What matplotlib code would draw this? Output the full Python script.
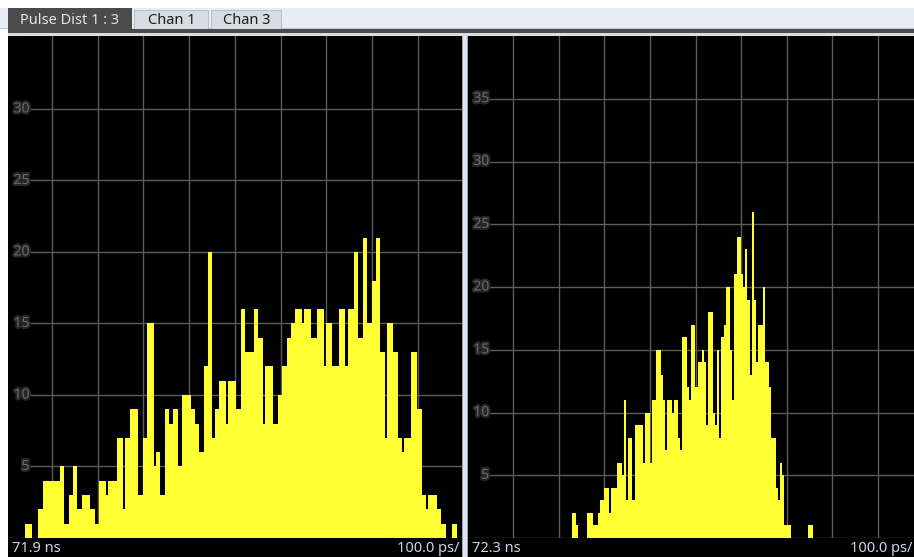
import matplotlib
matplotlib.use("Agg")
import matplotlib.pyplot as plt
import matplotlib.patheffects as pe
from matplotlib.patches import Rectangle
import numpy as np

plt.rcParams['font.family'] = ['Noto Sans', 'DejaVu Sans']

# histogram counts (one entry per bin)
left_counts = [
    1, 1, 1, 0, 0, 0, 2, 2, 4, 4, 4, 4, 4, 4, 4, 4, 5, 5, 1, 1, 3, 3, 5, 5,
    2, 2, 3, 3, 3, 3, 2, 2, 1, 1, 4, 4, 4, 3, 4, 4, 4, 4, 7, 7, 7, 2, 7, 7,
    9, 9, 9, 9, 3, 3, 7, 7, 15, 15, 15, 5, 6, 6, 3, 3, 9, 9, 8, 8, 9, 9, 5, 5,
    10, 10, 10, 10, 9, 9, 8, 8, 6, 6, 12, 12, 20, 20, 7, 9, 9, 11, 11, 11, 8, 11,
    11, 11, 11, 9, 9, 16, 16, 13, 13, 13, 13, 16, 16, 14, 14, 8, 12, 12, 12, 12,
    8, 8, 10, 10, 12, 12, 14, 14, 15, 15, 16, 16, 16, 15, 16, 16, 16, 14, 14, 14,
    16, 16, 16, 12, 15, 15, 15, 12, 12, 12, 16, 16, 16, 12, 16, 16, 16, 20, 20,
    14, 14, 21, 21, 15, 15, 18, 18, 21, 21, 13, 13, 7, 15, 15, 15, 13, 13, 7, 7,
    6, 7, 7, 7, 13, 13, 13, 9, 9, 3, 3, 2, 3, 3, 3, 3, 2, 2, 1, 1, 0, 0, 0, 1, 1]

right_counts = [
    2, 2, 1, 0, 0, 0, 0, 2, 2, 2, 1, 1, 2, 3, 3, 4, 4, 2, 4, 4, 4, 6, 6, 5, 11,
    3, 8, 8, 3, 9, 9, 9, 9, 6, 10, 10, 6, 11, 11, 15, 15, 13, 11, 7, 11, 11, 10,
    11, 11, 8, 7, 16, 16, 12, 11, 17, 17, 12, 14, 14, 15, 14, 9, 18, 18, 10, 9,
    15, 8, 16, 17, 20, 20, 15, 11, 21, 24, 24, 21, 20, 23, 19, 13, 26, 19, 14,
    17, 17, 20, 14, 14, 12, 8, 8, 4, 3, 6, 5, 1, 1, 1, 0, 0, 0, 0, 0, 0, 0, 0, 1, 1]

left_origin = 71.9     # ns at left edge of screen
right_origin = 72.3
left_start = 71.9415   # ns, first bin edge
right_start = 72.5283
bin_w = 0.004763       # ns
time_div = 0.1         # 100 ps/div

left_ticks = [5, 10, 15, 20, 25, 30]
right_ticks = [5, 10, 15, 20, 25, 30, 35]

tab_names = ["Pulse Dist 1 : 3", "Chan 1", "Chan 3"]

W, H = 914, 557
BAR_COLOR = "#ffff33"
GRID_COLOR = "#5c5c5c"
LABEL_COLOR = "#c8d6e8"


def frect(x0, y0, x1, y1):
    # pixel box (top-left origin) -> figure fraction box
    return [x0 / W, 1 - y1 / H, (x1 - x0) / W, (y1 - y0) / H]


def add_box(fig, x0, y0, x1, y1, color, z=0):
    l, b, w, h = frect(x0, y0, x1, y1)
    fig.add_artist(Rectangle((l, b), w, h, transform=fig.transFigure,
                             facecolor=color, edgecolor="none", zorder=z))


def draw_panel(fig, x0, counts, start, origin, xlim, ylim, ticks, left_lbl):
    ax = fig.add_axes(frect(x0, 36, x0 + 455.6, 538))
    ax.set_facecolor("black")
    edges = start + bin_w * np.arange(len(counts) + 1)
    ax.stairs(counts, edges, fill=True, color=BAR_COLOR, zorder=3)
    ax.set_xlim(*xlim)
    ax.set_ylim(*ylim)
    for k in range(1, 10):
        ax.axvline(origin + time_div * k, color=GRID_COLOR, lw=1, zorder=1)
    for t in [0] + ticks:
        ax.axhline(t, xmin=0.05 if t else 0, color=GRID_COLOR, lw=1, zorder=1)
    for t in ticks:
        ax.text(0.047, t, str(t), transform=ax.get_yaxis_transform(),
                ha="right", va="center", fontsize=10, color="#6a6a6a",
                path_effects=[pe.withStroke(linewidth=3, foreground="#262626")],
                zorder=4)
    ax.set_xticks([])
    ax.set_yticks([])
    for s in ax.spines.values():
        s.set_visible(False)
    # bottom label strip
    add_box(fig, x0, 538, x0 + 455.6, 557, "black", z=1)
    fig.text((x0 + 4) / W, 1 - 548 / H, left_lbl, ha="left", va="center",
             fontsize=10.5, color=LABEL_COLOR, zorder=5)
    return ax


fig = plt.figure(figsize=(W / 100, H / 100), dpi=100, facecolor="white")

# tab bar
add_box(fig, 0, 8, W, 28, "#e8ecf4")
add_box(fig, 0, 28, W, 29, "#c4cad2")
add_box(fig, 8, 29, W, 33, "#4b4b4b")
add_box(fig, 8, 33, W, 36, "#d9dee6")
tab_spans = [(8, 132), (134, 209), (211, 282)]
for i, (name, (a, b)) in enumerate(zip(tab_names, tab_spans)):
    if i == 0:
        add_box(fig, a, 8, b, 30, "#4b4b4b", z=2)
        col = "#e4e4e4"
    else:
        add_box(fig, a, 10, b, 29, "#b8c0ca", z=2)
        add_box(fig, a + 1, 11, b - 1, 29, "#d5dce4", z=2)
        col = "#1c1c1c"
    fig.text((a + b) / 2 / W, 1 - 20 / H, name, ha="center", va="center",
             fontsize=10.5, color=col, zorder=5)

draw_panel(fig, 8, left_counts, left_start, left_origin,
           (left_origin + 1.9 / 455.6, left_origin + 10 * time_div),
           (0, 35.1), left_ticks, "71.9 ns")
draw_panel(fig, 467.7, right_counts, right_start, right_origin,
           (right_origin, right_origin + 10 * time_div),
           (0, 40.0), right_ticks, "72.3 ns")

fig.text(459 / W, 1 - 548 / H, "100.0 ps/", ha="right", va="center",
         fontsize=10.5, color=LABEL_COLOR, zorder=5)
fig.text(912 / W, 1 - 548 / H, "100.0 ps/", ha="right", va="center",
         fontsize=10.5, color=LABEL_COLOR, zorder=5)

# separator between the two screens
add_box(fig, 461.7, 36, 467.7, 557, "#dfe5ee", z=6)
add_box(fig, 461.7, 36, 462.7, 557, "#9aa2ac", z=6)
add_box(fig, 466.7, 36, 467.7, 557, "#9aa2ac", z=6)

fig.savefig("out.png", dpi=100, facecolor="white")
